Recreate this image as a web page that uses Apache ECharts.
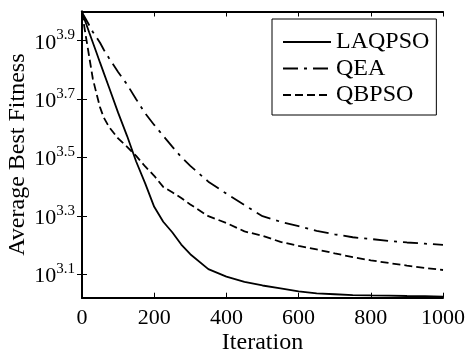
<!DOCTYPE html>
<html>
<head>
<meta charset="utf-8">
<script src="https://cdn.jsdelivr.net/npm/echarts@6/dist/echarts.min.js"></script>
<style>
  html, body { margin: 0; padding: 0; background: #fff; }
  #chart { width: 470px; height: 358px; }
</style>
</head>
<body>
<div id="chart"></div>
<script>
// Iterations at which the average best fitness was sampled
const iterations = [0, 10, 20, 30, 40, 50, 60, 75, 100, 125, 150, 175, 200, 225, 250, 275, 300,
  350, 400, 450, 500, 550, 600, 650, 700, 750, 800, 850, 900, 950, 1000];

// Average best fitness per algorithm
const laqpso = [9931, 9183, 8472, 7834, 7244, 6683, 6180, 5495, 4508, 3750, 3069, 2582, 2148, 1910, 1758, 1596, 1479,
  1315, 1239, 1189, 1156, 1130, 1104, 1086, 1079, 1072, 1069, 1067, 1064, 1062, 1059];
const qea = [9931, 9441, 8974, 8511, 8166, 7816, 7413, 6918, 6209, 5623, 5012, 4487, 4093, 3758, 3451, 3177, 2965,
  2618, 2382, 2178, 1995, 1910, 1845, 1778, 1730, 1690, 1667, 1641, 1622, 1607, 1592];
const qbpso = [9931, 8318, 6998, 5888, 5248, 4699, 4345, 4027, 3681, 3443, 3206, 2951, 2742, 2512, 2410, 2301, 2188,
  1995, 1892, 1770, 1710, 1629, 1578, 1535, 1489, 1445, 1409, 1380, 1352, 1327, 1306];

const seriesNames = ['LAQPSO', 'QEA', 'QBPSO'];
const seriesValues = [laqpso, qea, qbpso];
const lineTypes = ['solid', [15, 6, 3, 6], [8, 4]];

// Axis ticks
const xTicks = [0, 200, 400, 600, 800, 1000];
const yTickExponents = [3.1, 3.3, 3.5, 3.7, 3.9];
const yMin = 1050, yMax = 10000;

const font = '"Liberation Serif", "Times New Roman", serif';
const yTickValues = yTickExponents.map(e => Math.pow(10, e));

const chart = echarts.init(document.getElementById('chart'), null, { renderer: 'canvas' });

const xBase = {
  type: 'value', min: xTicks[0], max: xTicks[xTicks.length - 1], interval: 200,
  axisLine: { show: true, lineStyle: { color: '#000', width: 2 } },
  axisTick: { show: true, inside: true, length: 5, lineStyle: { color: '#000', width: 1 } },
  splitLine: { show: false }
};
const yBase = {
  type: 'log', logBase: 10, min: yMin, max: yMax,
  axisLine: { show: true, lineStyle: { color: '#000', width: 2 } },
  axisTick: { show: true, inside: true, length: 5, customValues: yTickValues, lineStyle: { color: '#000', width: 1 } },
  splitLine: { show: false },
  minorTick: { show: false }
};

chart.setOption({
  animation: false,
  backgroundColor: '#fff',
  grid: { left: 82, right: 27, top: 11.5, bottom: 60.3, containLabel: false, outerBoundsMode: 'none' },
  legend: {
    orient: 'vertical',
    left: 272, top: 19,
    padding: [10, 7, 7, 10],
    itemGap: 0.5,
    itemWidth: 48, itemHeight: 14,
    borderColor: '#000', borderWidth: 1,
    backgroundColor: '#fff',
    itemStyle: { opacity: 0, borderWidth: 0 },
    textStyle: { fontFamily: font, fontSize: 24, color: '#000', lineHeight: 26 },
    data: seriesNames
  },
  xAxis: [
    Object.assign({}, xBase, {
      position: 'bottom',
      name: 'Iteration', nameLocation: 'middle', nameGap: 33, nameMoveOverlap: false,
      nameTextStyle: { fontFamily: font, fontSize: 24, color: '#000' },
      axisLabel: { show: true, margin: 10, fontFamily: font, fontSize: 22, color: '#000', formatter: v => String(v) }
    }),
    Object.assign({}, xBase, { position: 'top', axisLabel: { show: false } })
  ],
  yAxis: [
    Object.assign({}, yBase, {
      position: 'left',
      name: 'Average Best Fitness', nameLocation: 'middle', nameGap: 52, nameMoveOverlap: false,
      nameTextStyle: { fontFamily: font, fontSize: 24, color: '#000' },
      axisLabel: {
        show: true, margin: 7, customValues: yTickValues,
        formatter: v => '{b|10}{s|' + Math.log10(v).toFixed(1) + '}',
        rich: {
          b: { fontFamily: font, fontSize: 22, color: '#000', lineHeight: 26, verticalAlign: 'bottom' },
          s: { fontFamily: font, fontSize: 15, color: '#000', lineHeight: 15, verticalAlign: 'top' }
        }
      }
    }),
    Object.assign({}, yBase, { position: 'right', axisLabel: { show: false } })
  ],
  series: seriesNames.map((name, i) => ({
    name: name,
    type: 'line',
    xAxisIndex: 0, yAxisIndex: 0,
    data: iterations.map((it, k) => [it, seriesValues[i][k]]),
    showSymbol: false, symbol: 'none',
    smooth: false,
    lineStyle: { color: '#000', width: 1.8, type: lineTypes[i] },
    itemStyle: { color: '#000' }
  }))
});
</script>
</body>
</html>
